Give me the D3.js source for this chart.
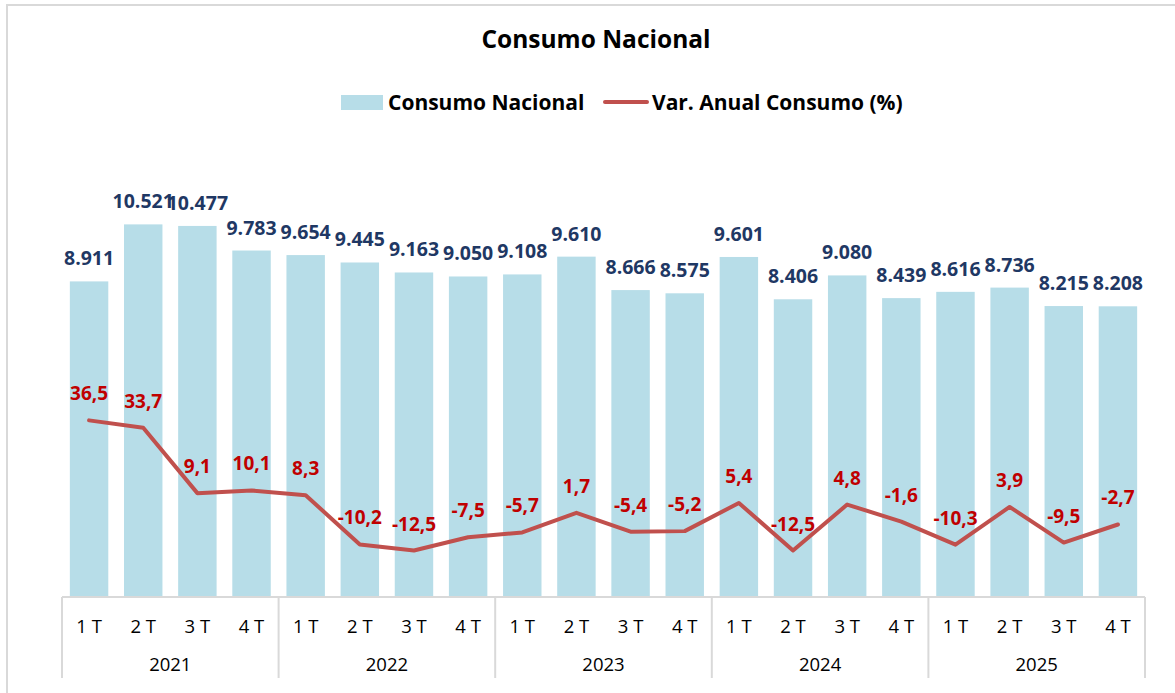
<!DOCTYPE html>
<html>
<head>
<meta charset="utf-8">
<script src="https://cdn.jsdelivr.net/npm/d3@7"></script>
<style>
  body { margin: 0; background: #fff; }
  text { font-family: "Open Sans", Lato, sans-serif; }
</style>
</head>
<body>
<div id="chart"></div>
<script>
// datos
var years = ["2021", "2022", "2023", "2024", "2025"];
var quarters = ["1 T", "2 T", "3 T", "4 T"];
var consumo = [8911, 10521, 10477, 9783, 9654, 9445, 9163, 9050, 9108, 9610,
               8666, 8575, 9601, 8406, 9080, 8439, 8616, 8736, 8215, 8208];
var variacion = [36.5, 33.7, 9.1, 10.1, 8.3, -10.2, -12.5, -7.5, -5.7, 1.7,
                 -5.4, -5.2, 5.4, -12.5, 4.8, -1.6, -10.3, 3.9, -9.5, -2.7];

var W = 1175, H = 693;
var margin = { left: 62, right: 30, top: 172, bottom: 96 };
var w = W - margin.left - margin.right, h = H - margin.top - margin.bottom;

var cats = [];
years.forEach(function (y) { quarters.forEach(function (q) { cats.push(y + "|" + q); }); });

var fmtNum = function (v) { return d3.format(",")(v).replace(/,/g, "."); };
var fmtPct = function (v) { return v.toFixed(1).replace(".", ","); };

var svg = d3.select("#chart").append("svg")
    .attr("width", W).attr("height", H);

// marco
svg.append("rect")
    .attr("x", 7).attr("y", 5).attr("width", 1172).attr("height", 700)
    .attr("fill", "none").attr("stroke", "#d9d9d9").attr("stroke-width", 2);

svg.append("text")
    .attr("x", 596).attr("y", 48)
    .attr("text-anchor", "middle")
    .style("font-size", "24.5px").style("font-weight", "bold")
    .text("Consumo Nacional");

// leyenda
var legend = svg.append("g").attr("class", "legend");
legend.append("rect").attr("x", 341).attr("y", 95).attr("width", 42).attr("height", 15)
    .attr("fill", "#b7dde8");
legend.append("text").attr("x", 388).attr("y", 110)
    .style("font-size", "21px").style("font-weight", "bold").text("Consumo Nacional");
legend.append("line").attr("x1", 605).attr("x2", 647).attr("y1", 102).attr("y2", 102)
    .attr("stroke", "#c0504d").attr("stroke-width", 4).attr("stroke-linecap", "round");
legend.append("text").attr("x", 652).attr("y", 110)
    .style("font-size", "21px").style("font-weight", "bold").text("Var. Anual Consumo (%)");

var x = d3.scaleBand().domain(cats).range([0, w]).paddingInner(0.29).paddingOuter(0.145);
var y = d3.scaleLinear().domain([0, 12000]).range([h, 0]);
var y2 = d3.scaleLinear().domain([-30, 130]).range([h, 0]);

var g = svg.append("g").attr("transform", "translate(" + margin.left + "," + margin.top + ")");

g.selectAll("rect.bar").data(consumo).enter().append("rect")
    .attr("class", "bar")
    .attr("x", function (d, i) { return x(cats[i]); })
    .attr("width", x.bandwidth())
    .attr("y", function (d) { return y(d); })
    .attr("height", function (d) { return h - y(d); })
    .attr("fill", "#b7dde8");

g.selectAll("text.barlab").data(consumo).enter().append("text")
    .attr("class", "barlab")
    .attr("x", function (d, i) { return x(cats[i]) + x.bandwidth() / 2; })
    .attr("y", function (d) { return y(d) - 16; })
    .attr("text-anchor", "middle")
    .style("font-size", "19.5px").style("font-weight", "bold").attr("fill", "#1f3864")
    .text(fmtNum);

var line = d3.line()
    .x(function (d, i) { return x(cats[i]) + x.bandwidth() / 2; })
    .y(function (d) { return y2(d); });

g.append("path").datum(variacion)
    .attr("d", line)
    .attr("fill", "none").attr("stroke", "#c0504d").attr("stroke-width", 4)
    .attr("stroke-linejoin", "round").attr("stroke-linecap", "round");

g.selectAll("text.pctlab").data(variacion).enter().append("text")
    .attr("class", "pctlab")
    .attr("x", function (d, i) { return x(cats[i]) + x.bandwidth() / 2; })
    .attr("y", function (d) { return y2(d) - 20; })
    .attr("text-anchor", "middle")
    .style("font-size", "19px").style("font-weight", "bold").attr("fill", "#c00000")
    .text(fmtPct);

// eje x con dos niveles
var axis = g.append("g").attr("transform", "translate(0," + h + ")");
axis.append("line").attr("x1", 0).attr("x2", w).attr("y1", 0).attr("y2", 0)
    .attr("stroke", "#d9d9d9").attr("stroke-width", 2);
var groupW = w / years.length;
years.forEach(function (yr, k) {
    axis.append("text")
        .attr("x", groupW * k + groupW / 2).attr("y", 74)
        .attr("text-anchor", "middle")
        .style("font-size", "18.5px").attr("fill", "#000")
        .text(yr);
});
d3.range(years.length + 1).forEach(function (k) {
    axis.append("line")
        .attr("x1", groupW * k).attr("x2", groupW * k)
        .attr("y1", 0).attr("y2", 81)
        .attr("stroke", "#d9d9d9").attr("stroke-width", 2);
});
cats.forEach(function (c, i) {
    axis.append("text")
        .attr("x", x(c) + x.bandwidth() / 2).attr("y", 36)
        .attr("text-anchor", "middle")
        .style("font-size", "18.5px").attr("fill", "#000")
        .text(c.split("|")[1]);
});
</script>
</body>
</html>
